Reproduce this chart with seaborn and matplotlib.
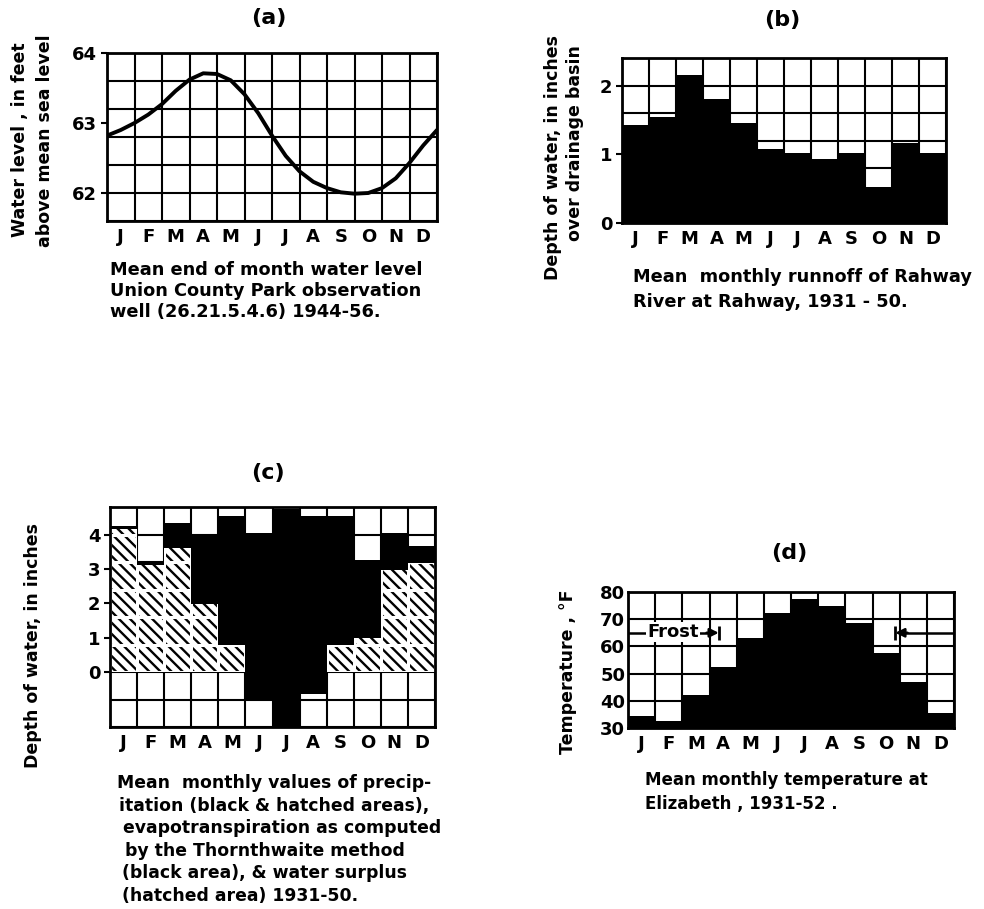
import matplotlib

matplotlib.use("Agg")
import matplotlib.pyplot as plt
import numpy as np
import seaborn as sns

# ---- data ----
MONTHS = ["Jan", "Feb", "Mar", "Apr", "May", "Jun", "Jul", "Aug", "Sep", "Oct", "Nov", "Dec"]
MONTH_LETTERS = ["J", "F", "M", "A", "M", "J", "J", "A", "S", "O", "N", "D"]

# (a) end of month water level, read every half month (months since Jan 1)
level_pos = [0, 0.5, 1, 1.5, 2, 2.5, 3, 3.5, 4, 4.5, 5, 5.5, 6,
             6.5, 7, 7.5, 8, 8.5, 9, 9.5, 10, 10.5, 11, 11.5, 12]
level_ft = [62.82, 62.90, 63.00, 63.12, 63.27, 63.46, 63.62, 63.71, 63.70, 63.61, 63.41, 63.14, 62.82,
            62.53, 62.31, 62.16, 62.07, 62.01, 61.99, 62.00, 62.07, 62.21, 62.43, 62.68, 62.90]

# (b) mean monthly runoff, inches
runoff = [1.42, 1.54, 2.15, 1.81, 1.45, 1.08, 1.02, 0.93, 1.02, 0.52, 1.16, 1.02]

# (c) precipitation, water surplus and soil-moisture deficit, inches
precip = [4.25, 3.17, 4.34, 3.98, 4.54, 4.05, 4.74, 4.54, 4.54, 3.26, 4.05, 3.68]
surplus = [4.15, 3.10, 3.61, 1.97, 0.80, 0.0, 0.0, 0.0, 0.80, 1.00, 2.97, 3.16]
deficit = [0.0, 0.0, 0.0, 0.0, 0.0, 0.82, 1.60, 0.65, 0.0, 0.0, 0.0, 0.0]

# (d) mean monthly temperature, deg F, and frost period (months since Jan 1)
temp_f = [34.3, 32.7, 42.0, 52.6, 63.0, 72.2, 77.5, 74.8, 68.5, 57.5, 46.9, 35.6]
frost_last = 3.34
frost_first = 9.84
frost_level = 65

# ---- style ----
sns.set_style("white")
plt.rcParams["font.family"] = ["DejaVu Sans"]
plt.rcParams["font.weight"] = "bold"
plt.rcParams["text.color"] = "black"
plt.rcParams["xtick.color"] = "black"
plt.rcParams["ytick.color"] = "black"
plt.rcParams["xtick.labelcolor"] = "black"
plt.rcParams["ytick.labelcolor"] = "black"
plt.rcParams["hatch.linewidth"] = 1.7
plt.rcParams["hatch.color"] = "black"

W, H = 984, 909
fig = plt.figure(figsize=(W / 100, H / 100), dpi=100)
fig.patch.set_facecolor("white")


def add_axes(x0, y0, x1, y1):
    return fig.add_axes([x0 / W, 1 - y1 / H, (x1 - x0) / W, (y1 - y0) / H])


def ftext(x, y, s, **kw):
    kw.setdefault("fontweight", "bold")
    kw.setdefault("color", "black")
    fig.text(x / W, 1 - y / H, s, **kw)


def grid_style(ax, xedges, ygrid, yticks, ylim, ytick_len=4):
    xedges = np.asarray(xedges)
    ax.set_xlim(xedges[0], xedges[-1])
    ax.set_ylim(*ylim)
    ax.set_xticks((xedges[:-1] + xedges[1:]) / 2, MONTH_LETTERS)
    ax.set_yticks(yticks)
    ax.grid(False)
    # ruled grid drawn under the bars
    ax.hlines(ygrid, xedges[0], xedges[-1], colors="black", linewidth=1.5, zorder=0.5)
    ax.vlines(xedges, ylim[0], ylim[1], colors="black", linewidth=1.5, zorder=0.5)
    ax.tick_params(axis="x", length=0, pad=5, labelsize=13)
    ax.tick_params(axis="y", length=ytick_len, width=1.5, pad=3,
                   labelsize=13, left=True, color="black")
    for sp in ax.spines.values():
        sp.set_visible(True)
        sp.set_color("black")
        sp.set_linewidth(2)
        sp.set_zorder(3)
    ax.set_xlabel("")
    ax.set_ylabel("")


cat_edges = np.arange(-0.5, 12, 1.0)

# ---- (a) water level ----
ax_a = add_axes(107, 53, 437, 221)
sns.lineplot(x=level_pos, y=level_ft, color="black", linewidth=2.8, ax=ax_a,
             solid_capstyle="round", solid_joinstyle="round")
grid_style(ax_a, np.arange(0, 13), np.arange(61.6, 64.01, 0.4), [62, 63, 64], (61.6, 64.0))

# ---- (b) runoff ----
ax_b = add_axes(622, 58, 946, 223)
sns.barplot(x=MONTHS, y=runoff, color="black", saturation=1, width=1.0, linewidth=0,
            errorbar=None, ax=ax_b)
grid_style(ax_b, cat_edges, np.arange(0, 2.41, 0.4), [0, 1, 2], (0, 2.4))

# ---- (c) precipitation / evapotranspiration / surplus ----
ax_c = add_axes(110, 507, 435, 727)
sns.barplot(x=MONTHS, y=precip, color="black", saturation=1, width=1.0, linewidth=0,
            errorbar=None, ax=ax_c)
sns.barplot(x=MONTHS, y=[-d for d in deficit], color="black", saturation=1, width=1.0,
            linewidth=0, errorbar=None, ax=ax_c)
sns.barplot(x=MONTHS, y=surplus, color="white", saturation=1, width=1.0, linewidth=0,
            edgecolor="black", hatch="\\\\\\", errorbar=None, ax=ax_c)
c_grid = np.arange(-1.6, 4.81, 0.8)
grid_style(ax_c, cat_edges, c_grid, [0, 1, 2, 3, 4], (-1.6, 4.8))
# white seams between the hatched cells
for bar in ax_c.containers[-1]:
    hl = ax_c.hlines(c_grid, -0.5, 11.5, colors="white", linewidth=2.2, zorder=1.5)
    hl.set_clip_path(bar)
    vl = ax_c.vlines(cat_edges, -1.6, 4.8, colors="white", linewidth=2.2, zorder=1.5)
    vl.set_clip_path(bar)

# ---- (d) temperature ----
ax_d = add_axes(628, 592, 954, 728)
sns.barplot(x=MONTHS, y=temp_f, color="black", saturation=1, width=1.0, linewidth=0,
            errorbar=None, ax=ax_d)
grid_style(ax_d, cat_edges, np.arange(30, 81, 10), np.arange(30, 81, 10), (30, 80), ytick_len=0)
ax_d.tick_params(axis="y", pad=2)

fx0 = frost_last - 0.5
fx1 = frost_first - 0.5
arrow_kw = dict(arrowstyle="-|>", color="black", lw=1.8, mutation_scale=13, shrinkA=0, shrinkB=0)
ax_d.hlines(frost_level, -0.5, fx0 - 0.2, colors="black", linewidth=1.8, zorder=2)
ax_d.annotate("", xy=(fx0, frost_level), xytext=(fx0 - 0.45, frost_level), arrowprops=arrow_kw, zorder=2)
ax_d.vlines(fx0, frost_level - 2.6, frost_level + 2.6, colors="black", linewidth=2, zorder=2)
ax_d.text(1.16, frost_level + 0.3, "Frost", ha="center", va="center", fontsize=13, fontweight="bold",
          color="black", zorder=2.5, bbox=dict(facecolor="white", edgecolor="none", pad=1))
ax_d.hlines(frost_level, fx1 + 0.2, 11.5, colors="black", linewidth=1.8, zorder=2)
ax_d.annotate("", xy=(fx1, frost_level), xytext=(fx1 + 0.45, frost_level), arrowprops=arrow_kw, zorder=2)
ax_d.vlines(fx1, frost_level - 2.6, frost_level + 2.6, colors="black", linewidth=2, zorder=2)

# ---- titles ----
ftext(269, 18, "(a)", ha="center", va="center", fontsize=16)
ftext(782, 20, "(b)", ha="center", va="center", fontsize=16)
ftext(268, 473, "(c)", ha="center", va="center", fontsize=16)
ftext(789, 553, "(d)", ha="center", va="center", fontsize=16)

# ---- axis labels ----
ylab = dict(rotation=90, ha="center", va="center", fontsize=12.5)
ftext(20, 140, "Water level , in feet", **ylab)
ftext(45, 141, "above mean sea level", **ylab)
ftext(553, 157, "Depth of water, in inches", **ylab)
ftext(575, 143, "over drainage basin", **ylab)
ftext(33, 645, "Depth of water, in inches", **ylab)
ftext(568, 672, "Temperature , °F", **ylab)

# ---- captions ----
cap = dict(ha="left", va="center", fontsize=12.8)
ftext(110, 270, "Mean end of month water level", **cap)
ftext(110, 291, "Union County Park observation", **cap)
ftext(110, 312, "well (26.21.5.4.6) 1944-56.", **cap)

ftext(633, 277, "Mean  monthly runnoff of Rahway", **cap)
ftext(633, 302, "River at Rahway, 1931 - 50.", **cap)

cap_c = dict(ha="left", va="center", fontsize=12.4)
ftext(117, 783, "Mean  monthly values of precip-", **cap_c)
ftext(119, 806, "itation (black & hatched areas),", **cap_c)
ftext(123, 828, "evapotranspiration as computed", **cap_c)
ftext(125, 851, "by the Thornthwaite method", **cap_c)
ftext(122, 873, "(black area), & water surplus", **cap_c)
ftext(122, 896, "(hatched area) 1931-50.", **cap_c)

cap_d = dict(ha="left", va="center", fontsize=12.0)
ftext(645, 780, "Mean monthly temperature at", **cap_d)
ftext(645, 804, "Elizabeth , 1931-52 .", **cap_d)

fig.savefig("out.png", dpi=100)
